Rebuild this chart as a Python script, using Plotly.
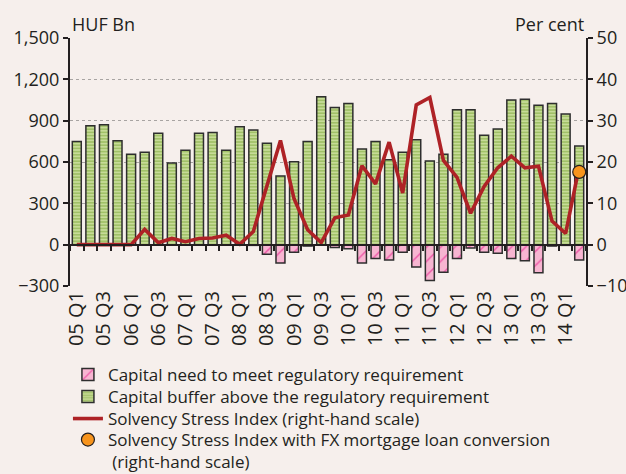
import plotly.graph_objects as go

quarters = [
    "05 Q1", "05 Q2", "05 Q3", "05 Q4", "06 Q1", "06 Q2", "06 Q3", "06 Q4",
    "07 Q1", "07 Q2", "07 Q3", "07 Q4", "08 Q1", "08 Q2", "08 Q3", "08 Q4",
    "09 Q1", "09 Q2", "09 Q3", "09 Q4", "10 Q1", "10 Q2", "10 Q3", "10 Q4",
    "11 Q1", "11 Q2", "11 Q3", "11 Q4", "12 Q1", "12 Q2", "12 Q3", "12 Q4",
    "13 Q1", "13 Q2", "13 Q3", "13 Q4", "14 Q1", "14 Q2",
]
tick_labels = [
    "05 Q1", "05 Q3", "06 Q1", "06 Q3", "07 Q1", "07 Q3", "08 Q1", "08 Q3",
    "09 Q1", "09 Q3", "10 Q1", "10 Q3", "11 Q1", "11 Q3", "12 Q1", "12 Q3",
    "13 Q1", "13 Q3", "14 Q1",
]
capital_buffer = [
    748, 864, 871, 755, 656, 671, 808, 593, 685, 808, 815, 685, 856, 832,
    736, 499, 601, 748, 1074, 996, 1025, 695, 748, 617, 671, 762, 608, 656,
    980, 980, 794, 840, 1050, 1055, 1011, 1025, 948, 717,
]
capital_need = [
    0, 0, 0, 0, 0, 0, 0, 0, 0, 0, 0, 0, 0, -5,
    -70, -133, -55, -10, 0, -20, -30, -133, -101, -111, -55, -163, -260, -200,
    -101, -25, -55, -62, -101, -116, -203, -10, -5, -111,
]
stress_index = [
    0, 0, 0, 0, 0, 3.7, 0.5, 1.5, 0.7, 1.5, 1.6, 2.3, 0.1, 3.2,
    14.0, 25.2, 11.1, 3.6, 0.5, 6.5, 7.2, 19.1, 14.7, 24.8, 12.5, 33.8, 35.6, 20.4,
    16.3, 7.6, 14.1, 18.6, 21.4, 18.6, 19.0, 5.7, 2.7, 18.9,
]
fx_quarter = ["14 Q2"]
fx_stress_index = [17.6]

DARK = "#231F20"
BG = "#F6EFEC"
FONT = "Open Sans"
FS = 18
LFS = 17

fig = go.Figure()
fig.add_trace(go.Bar(
    x=quarters, y=capital_need, name="Capital need to meet regulatory requirement",
    legend="legend",
    marker=dict(color="#F7B5D1", line=dict(color="#2E2E2E", width=1.5),
                pattern=dict(shape="/", fgcolor="#E4007F", bgcolor="#F7B5D1",
                             size=10, solidity=0.15)),
))
fig.add_trace(go.Bar(
    x=quarters, y=capital_buffer, name="Capital buffer above the regulatory requirement",
    legend="legend2",
    marker=dict(color="#A9C86E", line=dict(color="#2E2E2E", width=1.5),
                pattern=dict(shape="-", fgcolor="#78A534", bgcolor="#CADD9C",
                             size=3.2, solidity=0.55)),
))
fig.add_trace(go.Scatter(
    x=quarters, y=stress_index, name="Solvency Stress Index (right-hand scale)",
    legend="legend3",
    mode="lines", line=dict(color="#AE2226", width=3.6),
    xaxis="x2", yaxis="y2",
))
fig.add_trace(go.Scatter(
    x=fx_quarter, y=fx_stress_index,
    name="Solvency Stress Index with FX mortgage loan conversion<br> (right-hand scale)",
    legend="legend4",
    mode="markers", marker=dict(color="#F7941D", size=13, line=dict(color=DARK, width=1.2)),
    xaxis="x2", yaxis="y2",
))

PLOT_TOP, PLOT_BOTTOM = 38, 286


def row_y(py):
    return (PLOT_BOTTOM - py) / (PLOT_BOTTOM - PLOT_TOP)


def legend_box(py, valign="middle"):
    return dict(x=-0.004, xanchor="left", y=row_y(py), yanchor="middle",
                bgcolor="rgba(0,0,0,0)", valign=valign,
                font=dict(family=FONT, size=LFS, color=DARK))


fig.update_layout(
    width=626, height=474,
    margin=dict(l=70, r=40, t=PLOT_TOP, b=474 - PLOT_BOTTOM, autoexpand=False),
    paper_bgcolor=BG, plot_bgcolor=BG,
    font=dict(family=FONT, size=FS, color=DARK),
    barmode="relative", bargap=0.34,
    showlegend=True,
    legend=legend_box(375),
    legend2=legend_box(397),
    legend3=legend_box(419),
    legend4=legend_box(451, valign="top"),
    xaxis=dict(type="category", categoryorder="array", categoryarray=quarters,
               range=[-0.5, len(quarters) - 0.5],
               tickmode="array", tickvals=tick_labels, ticktext=tick_labels,
               tickangle=-90, ticks="", showline=False, showgrid=False,
               zeroline=False, tickfont=dict(size=20)),
    xaxis2=dict(type="category", categoryorder="array", categoryarray=quarters,
                overlaying="x", anchor="free", position=300 / 1800,
                range=[-0.5, len(quarters) - 0.5],
                tickmode="linear", tick0=0, dtick=1, tickson="boundaries",
                ticks="outside", ticklen=5, tickwidth=1.5, tickcolor=DARK,
                showticklabels=False, showline=True, linewidth=2, linecolor=DARK,
                showgrid=False, zeroline=False),
    yaxis=dict(range=[-300, 1500], tick0=0, dtick=300, tickformat=",",
               showline=True, linewidth=2, linecolor=DARK,
               ticks="outside", ticklen=5, tickwidth=2, tickcolor=DARK,
               showgrid=True, gridcolor="#A8A4A2", griddash="dot", gridwidth=1.2,
               zeroline=False, tickfont=dict(size=FS)),
    yaxis2=dict(range=[-10, 50], tick0=0, dtick=10, overlaying="y", side="right",
                anchor="x", showline=True, linewidth=2, linecolor=DARK,
                ticks="outside", ticklen=5, tickwidth=2, tickcolor=DARK,
                showgrid=False, zeroline=False, tickfont=dict(size=FS)),
    annotations=[
        dict(text="HUF Bn", xref="paper", yref="paper", x=0, xanchor="left",
             y=row_y(24), yanchor="middle", showarrow=False, font=dict(size=FS)),
        dict(text="Per cent", xref="paper", yref="paper", x=1, xanchor="right",
             y=row_y(24), yanchor="middle", showarrow=False, font=dict(size=FS)),
    ],
)

fig.write_html(
    "out.html",
    config={"displayModeBar": False},
    post_script="document.documentElement.style.margin='0';"
                "document.body.style.margin='0';"
                "document.body.style.background='" + BG + "';",
)
